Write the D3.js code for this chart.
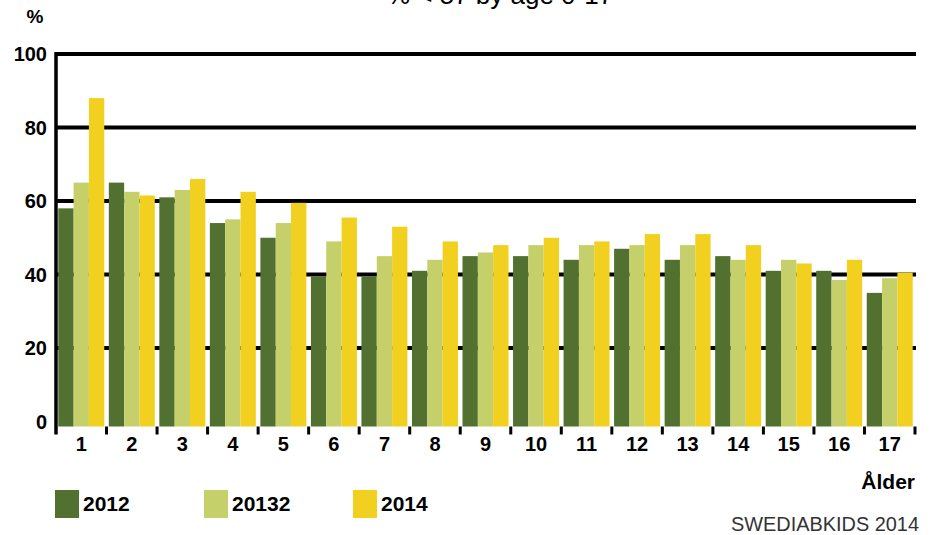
<!DOCTYPE html>
<html>
<head>
<meta charset="utf-8">
<script src="https://cdn.jsdelivr.net/npm/d3@7/dist/d3.min.js"></script>
<style>
  body { margin: 0; background: #fff; }
  text { font-family: "Liberation Sans", Arial, sans-serif; }
</style>
</head>
<body>
<div class="canva"></div>
<script>
// data
const ages = ["1","2","3","4","5","6","7","8","9","10","11","12","13","14","15","16","17"];
const seriesNames = ["2012", "20132", "2014"];
const values2012 = [58, 65, 61, 54, 50, 39.5, 39.5, 41, 45, 45, 44, 47, 44, 45, 41, 41, 35];
const values2013 = [65, 62.5, 63, 55, 54, 49, 45, 44, 46, 48, 48, 48, 48, 44, 44, 38.5, 39];
const values2014 = [88, 61.5, 66, 62.5, 59.5, 55.5, 53, 49, 48, 50, 49, 51, 51, 48, 43, 44, 40.5];
const yTicks = [0, 20, 40, 60, 80, 100];
const colors = ["#52702f", "#c6d06b", "#f2d01f"];

const rows = ages.map((a, i) => ({age: a, vals: [values2012[i], values2013[i], values2014[i]]}));

const svg = d3.select(".canva").append("svg")
    .attr("width", 932)
    .attr("height", 535);

const plotLeft = 56, plotRight = 915, plotTop = 54, plotBottom = 421.5;

const x0 = d3.scaleBand().domain(ages).range([plotLeft, plotRight])
    .paddingInner(0.09).paddingOuter(0.045);
const x1 = d3.scaleBand().domain(d3.range(3)).range([0, x0.bandwidth()]);
const y = d3.scaleLinear().domain([0, 100]).range([plotBottom, plotTop]);

// title (mostly cut off at the top)
svg.append("text")
    .attr("x", 500).attr("y", 4)
    .attr("text-anchor", "middle")
    .style("font-size", "26px")
    .text("% < 57 by age 0-17");

// grid lines
svg.append("g").selectAll("line")
    .data(yTicks.filter(d => d > 0))
    .enter().append("line")
    .attr("x1", plotLeft).attr("x2", plotRight + 1)
    .attr("y1", d => y(d)).attr("y2", d => y(d))
    .attr("stroke", "#000").attr("stroke-width", 4);

// bars
const groups = svg.append("g").selectAll("g")
    .data(rows)
    .enter().append("g")
    .attr("transform", d => `translate(${x0(d.age)},0)`);

groups.selectAll("rect")
    .data(d => d.vals)
    .enter().append("rect")
    .attr("x", (d, i) => x1(i))
    .attr("width", x1.bandwidth())
    .attr("y", d => y(d))
    .attr("height", d => y(0) - y(d) + 5)
    .attr("fill", (d, i) => colors[i]);

// y axis line
svg.append("line")
    .attr("x1", plotLeft).attr("x2", plotLeft)
    .attr("y1", plotTop - 2).attr("y2", y(0) + 13)
    .attr("stroke", "#000").attr("stroke-width", 3.5);

// x ticks at group boundaries
const gap = (x0.step() - x0.bandwidth()) / 2;
const bounds = ages.slice(1).map(a => x0(a) - gap).concat([plotRight]);
svg.append("g").selectAll("line")
    .data(bounds)
    .enter().append("line")
    .attr("x1", d => d).attr("x2", d => d)
    .attr("y1", y(0) + 5).attr("y2", y(0) + 13)
    .attr("stroke", "#000").attr("stroke-width", 3);

// y labels
svg.append("g").selectAll("text")
    .data(yTicks)
    .enter().append("text")
    .attr("x", 47).attr("y", d => y(d))
    .attr("dy", "0.36em")
    .attr("text-anchor", "end")
    .style("font-size", "20px").style("font-weight", "bold")
    .text(d => d);

svg.append("text")
    .attr("x", 35).attr("y", 23)
    .attr("text-anchor", "middle")
    .style("font-size", "19px").style("font-weight", "bold")
    .text("%");

// x labels
svg.append("g").selectAll("text")
    .data(ages)
    .enter().append("text")
    .attr("x", d => x0(d) + x0.bandwidth() / 2)
    .attr("y", 451)
    .attr("text-anchor", "middle")
    .style("font-size", "20px").style("font-weight", "bold")
    .text(d => d);

svg.append("text")
    .attr("x", plotRight).attr("y", 489)
    .attr("text-anchor", "end")
    .style("font-size", "21px").style("font-weight", "bold")
    .text("Ålder");

// legend
const legend = svg.append("g").selectAll("g")
    .data(seriesNames)
    .enter().append("g")
    .attr("transform", (d, i) => `translate(${55 + i * 149},490)`);

legend.append("rect")
    .attr("width", 24).attr("height", 28)
    .attr("fill", (d, i) => colors[i]);

legend.append("text")
    .attr("x", 28).attr("y", 21)
    .style("font-size", "21px").style("font-weight", "bold")
    .text(d => d);

// source
svg.append("text")
    .attr("x", 919).attr("y", 531)
    .attr("text-anchor", "end")
    .attr("textLength", 188).attr("lengthAdjust", "spacingAndGlyphs")
    .style("font-size", "20px")
    .attr("fill", "#333")
    .text("SWEDIABKIDS 2014");
</script>
</body>
</html>
